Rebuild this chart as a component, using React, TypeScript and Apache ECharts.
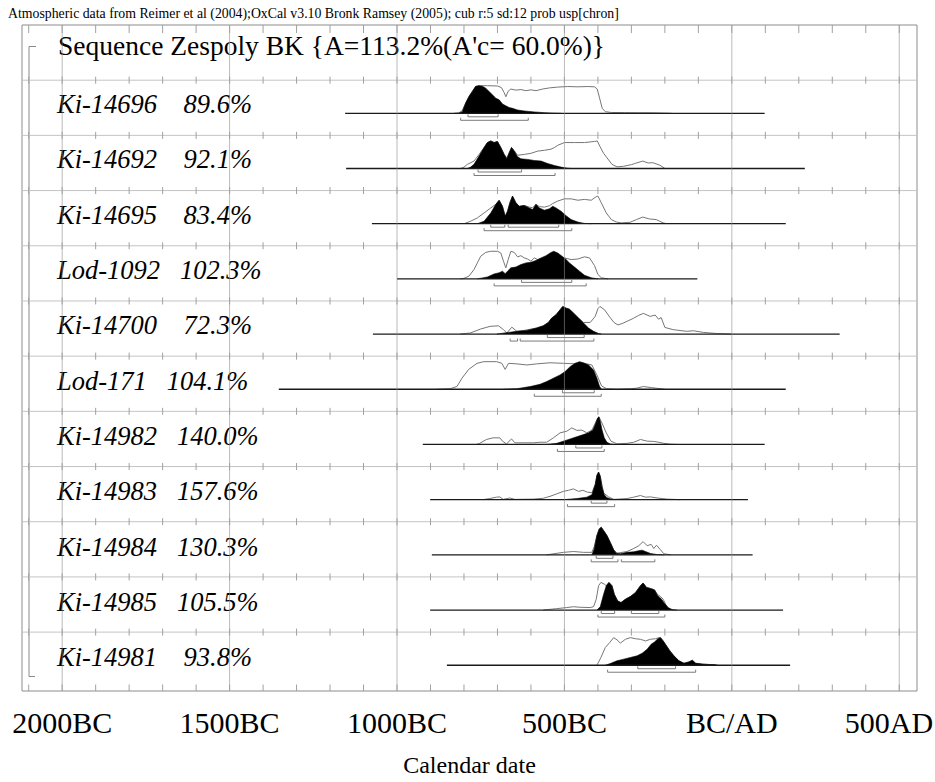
import React, { useEffect, useRef } from 'react';
import * as echarts from 'echarts';

// ---------------- data ----------------
const headerText =
  'Atmospheric data from Reimer et al (2004);OxCal v3.10 Bronk Ramsey (2005); cub r:5 sd:12 prob usp[chron]';
const sequenceTitle = "Sequence Zespoly BK {A=113.2%(A'c= 60.0%)}";
const sampleNames = ['Ki-14696', 'Ki-14692', 'Ki-14695', 'Lod-1092', 'Ki-14700', 'Lod-171', 'Ki-14982', 'Ki-14983', 'Ki-14984', 'Ki-14985', 'Ki-14981'];
const agreementIndex = ['89.6', '92.1', '83.4', '102.3', '72.3', '104.1', '140.0', '157.6', '130.3', '105.5', '93.8'];
const calendarTickYears = [-2000, -1500, -1000, -500, 0, 500];
const calendarTickLabels = ['2000BC', '1500BC', '1000BC', '500BC', 'BC/AD', '500AD'];
const axisTitle = 'Calendar date';

// extent of each distribution's base line [from, to] (calendar years, BC negative)
const rowSpans = [
  [-1155, 98], [-1152, 218], [-1075, 161], [-1000, -103], [-1072, 322], [-1353, 161],
  [-923, 98], [-901, 48], [-896, 62], [-901, 153], [-851, 174],
];

// highest posterior density ranges: [row, level (1 = 68.2%, 2 = 95.4%), from, to]
const hpdRanges = [
  [0, 1, -788, -698], [0, 2, -810, -608],
  [1, 1, -758, -628], [1, 2, -770, -528],
  [2, 1, -720, -678], [2, 1, -668, -517], [2, 2, -740, -478],
  [3, 1, -628, -478], [3, 2, -710, -435],
  [4, 1, -551, -441], [4, 2, -662, -640], [4, 2, -632, -412],
  [5, 1, -506, -411], [5, 2, -590, -390],
  [6, 1, -466, -388], [6, 2, -521, -381],
  [7, 1, -420, -373], [7, 2, -491, -350],
  [8, 1, -405, -355], [8, 2, -420, -340], [8, 2, -330, -230],
  [9, 1, -390, -350], [9, 1, -300, -218], [9, 2, -400, -200],
  [10, 1, -281, -168], [10, 2, -371, -108],
];

// posterior (black) and unmodelled likelihood (outline) densities: [year, % of max]
const postKi14696 = [[-815,0],[-805,6],[-795,37],[-785,61],[-775,79],[-765,98],[-755,100],[-745,98],[-735,91],[-725,79],[-715,67],[-705,55],[-695,49],[-685,34],[-675,27],[-665,21],[-655,18],[-640,12],[-620,8.5],[-590,5],[-560,2.4],[-530,0.6],[-510,0]];
const likeKi14696 = [[-830,0],[-815,2],[-805,10],[-795,37],[-785,61],[-775,80],[-765,97],[-755,100],[-730,100],[-700,99],[-688,93],[-680,75],[-675,60],[-668,80],[-660,88],[-645,84],[-630,86],[-615,82],[-600,85],[-585,82],[-565,88],[-545,92],[-520,95],[-490,97],[-460,96],[-430,97],[-410,96],[-402,88],[-395,55],[-387,18],[-378,6],[-360,3],[-320,2.5],[-280,2],[-240,2],[-210,1],[-180,0]];

const postKi14692 = [[-790,0],[-780,5],[-770,15],[-755,45],[-740,76],[-730,94],[-720,100],[-710,94],[-700,98],[-690,76],[-680,51],[-672,35],[-665,57],[-658,76],[-650,63],[-640,43],[-630,35],[-610,33],[-590,29],[-570,27],[-550,18],[-530,11],[-510,5],[-490,1],[-480,0]];
const likeKi14692 = [[-810,0],[-800,5],[-790,15],[-770,27],[-755,51],[-740,76],[-730,94],[-720,100],[-710,94],[-700,98],[-690,76],[-680,51],[-672,38],[-665,57],[-658,76],[-650,65],[-640,48],[-620,51],[-600,55],[-580,63],[-560,66],[-540,70],[-530,76],[-520,84],[-500,94],[-470,94],[-440,94],[-410,98],[-402,100],[-394,80],[-383,55],[-373,39],[-358,15],[-343,6],[-323,8],[-300,14],[-290,18],[-266,27],[-250,20],[-236,21],[-215,12],[-200,0]];

const postKi14695 = [[-760,0],[-740,9],[-720,39],[-705,70],[-695,85],[-685,63],[-677,27],[-670,45],[-662,79],[-655,100],[-645,76],[-635,63],[-620,66],[-605,57],[-595,51],[-585,70],[-575,57],[-560,49],[-545,54],[-535,63],[-525,57],[-510,45],[-495,29],[-480,15],[-460,6],[-440,1],[-420,0]];
const likeKi14695 = [[-800,0],[-780,9],[-760,21],[-740,39],[-720,57],[-705,70],[-695,85],[-685,63],[-677,27],[-670,45],[-662,79],[-655,100],[-645,76],[-635,63],[-620,66],[-605,60],[-595,58],[-585,70],[-575,62],[-560,60],[-545,65],[-535,73],[-520,82],[-500,90],[-480,90],[-460,85],[-440,88],[-420,85],[-405,98],[-400,100],[-390,76],[-375,39],[-360,15],[-345,6],[-330,3],[-304,5],[-285,15],[-266,24],[-246,17],[-226,15],[-205,3],[-195,0]];

const postLod1092 = [[-760,0],[-730,7],[-710,18],[-695,22],[-685,28],[-677,19],[-670,28],[-660,40],[-645,43],[-630,52],[-615,58],[-600,60],[-585,67],[-570,76],[-555,84],[-540,96],[-532,100],[-520,94],[-505,80],[-495,70],[-485,58],[-470,43],[-455,28],[-440,13],[-420,4],[-400,0]];
const likeLod1092 = [[-810,0],[-800,2],[-785,10],[-770,34],[-760,58],[-750,82],[-735,96],[-720,100],[-700,100],[-690,94],[-682,64],[-675,40],[-668,70],[-660,100],[-650,96],[-640,80],[-630,84],[-620,76],[-610,72],[-600,64],[-590,76],[-580,70],[-570,72],[-550,72],[-530,74],[-500,76],[-480,70],[-460,72],[-440,80],[-425,76],[-410,48],[-400,16],[-390,4],[-370,0]];

const postKi14700 = [[-702,0],[-667,6],[-642,10],[-612,13],[-583,22],[-563,30],[-548,42],[-538,58],[-525,70],[-513,88],[-505,100],[-495,94],[-485,90],[-473,76],[-458,58],[-443,40],[-428,22],[-413,10],[-398,2],[-389,0]];
const likeKi14700 = [[-811,0],[-781,4],[-751,18],[-722,28],[-697,30],[-682,16],[-672,4],[-657,25],[-642,10],[-622,13],[-600,18],[-583,22],[-563,30],[-548,42],[-538,58],[-525,70],[-513,88],[-505,100],[-495,94],[-485,90],[-473,76],[-458,58],[-443,42],[-423,42],[-408,64],[-400,92],[-394,100],[-380,88],[-365,62],[-352,42],[-340,33],[-324,40],[-310,48],[-294,57],[-278,68],[-264,75],[-244,64],[-229,69],[-219,54],[-211,60],[-200,24],[-175,16],[-135,10],[-115,12],[-85,6],[-45,2],[0,0]];

const postLod171 = [[-682,0],[-642,2],[-602,10],[-573,18],[-553,28],[-533,40],[-513,52],[-498,64],[-483,82],[-468,94],[-455,100],[-443,96],[-428,88],[-413,70],[-403,40],[-395,10],[-389,0]];
const likeLod171 = [[-881,0],[-841,2],[-821,10],[-806,40],[-786,72],[-761,94],[-741,100],[-702,100],[-687,94],[-677,72],[-667,94],[-642,92],[-612,88],[-583,92],[-543,96],[-503,94],[-463,92],[-433,92],[-418,88],[-403,52],[-389,12],[-374,2],[-344,0],[-300,2],[-284,4],[-264,10],[-240,6],[-200,0]];

const postKi14982 = [[-553,0],[-523,4],[-503,12],[-483,20],[-463,28],[-443,36],[-428,42],[-415,52],[-408,72],[-401,96],[-397,100],[-393,84],[-388,54],[-381,24],[-373,8],[-363,2],[-353,0]];
const likeKi14982 = [[-763,0],[-753,4],[-733,18],[-713,24],[-693,24],[-685,12],[-673,2],[-658,20],[-648,6],[-623,6],[-593,6],[-573,8],[-553,8],[-533,24],[-513,42],[-493,48],[-478,60],[-463,51],[-448,52],[-433,42],[-418,52],[-405,84],[-397,100],[-388,78],[-375,42],[-361,12],[-343,2],[-313,4],[-293,8],[-273,18],[-253,12],[-233,11],[-218,8],[-203,4],[-183,1],[-163,0]];

const postKi14983 = [[-503,0],[-463,4],[-433,9],[-418,18],[-408,55],[-403,88],[-398,100],[-393,85],[-388,46],[-381,18],[-373,7],[-361,2],[-348,0]];
const likeKi14983 = [[-743,0],[-723,4],[-703,9],[-693,10],[-683,1],[-663,6],[-648,1],[-593,2],[-563,5],[-543,12],[-523,21],[-503,30],[-488,34],[-473,39],[-458,30],[-445,34],[-431,27],[-418,25],[-408,55],[-403,88],[-398,100],[-393,85],[-383,24],[-368,10],[-353,1],[-313,4],[-293,9],[-273,15],[-258,9],[-243,10],[-223,6],[-193,2],[-153,0]];

const postKi14984 = [[-418,0],[-411,21],[-403,70],[-396,94],[-390,100],[-383,88],[-373,70],[-363,45],[-353,18],[-345,6],[-333,4],[-313,9],[-293,11],[-278,15],[-268,17],[-258,12],[-243,5],[-223,1],[-203,0]];
const likeKi14984 = [[-553,0],[-503,9],[-473,12],[-443,9],[-418,9],[-411,30],[-403,70],[-396,94],[-390,100],[-383,88],[-373,70],[-363,45],[-353,18],[-343,6],[-313,12],[-293,23],[-278,33],[-265,48],[-253,33],[-241,38],[-233,23],[-225,35],[-213,18],[-203,4],[-183,0]];

const postKi14985 = [[-403,0],[-393,12],[-383,57],[-375,88],[-367,100],[-358,88],[-351,57],[-341,33],[-331,27],[-318,39],[-303,49],[-288,63],[-273,88],[-265,98],[-255,82],[-243,78],[-231,73],[-221,51],[-211,41],[-203,27],[-191,9],[-178,1],[-163,0]];
const likeKi14985 = [[-563,0],[-523,5],[-493,9],[-473,12],[-453,10],[-423,9],[-413,12],[-405,39],[-398,88],[-391,100],[-381,94],[-375,88],[-367,100],[-358,88],[-351,57],[-341,33],[-331,27],[-318,39],[-303,49],[-288,63],[-273,88],[-265,98],[-255,82],[-243,78],[-231,73],[-221,55],[-213,49],[-205,39],[-198,21],[-188,5],[-173,0]];

const postKi14981 = [[-378,0],[-363,6],[-343,16],[-323,22],[-303,28],[-283,34],[-268,43],[-253,58],[-241,76],[-231,84],[-221,96],[-213,100],[-205,88],[-195,70],[-185,52],[-173,34],[-158,16],[-143,7],[-128,12],[-118,18],[-108,7],[-88,4],[-73,3],[-53,2],[-43,0]];
const likeKi14981 = [[-403,0],[-391,28],[-378,64],[-365,82],[-353,100],[-343,92],[-333,80],[-318,94],[-303,100],[-288,96],[-273,94],[-258,88],[-243,94],[-228,96],[-218,100],[-213,100],[-205,88],[-195,70],[-185,52],[-173,34],[-158,16],[-143,7],[-128,12],[-118,18],[-108,7],[-88,4],[-73,3],[-53,2],[-43,0]];

const posteriors = [postKi14696, postKi14692, postKi14695, postLod1092, postKi14700, postLod171, postKi14982, postKi14983, postKi14984, postKi14985, postKi14981];
const likelihoods = [likeKi14696, likeKi14692, likeKi14695, likeLod1092, likeKi14700, likeLod171, likeKi14982, likeKi14983, likeKi14984, likeKi14985, likeKi14981];

// ---------------- layout / style ----------------
const W = 935;
const H = 782;
const X_MIN = -2120;
const X_MAX = 553;
const Y_MIN = -0.067;
const Y_MAX = 12;
const GRID = { left: 22, top: 25, width: 895, height: 667.5 };
const ROW_PX = GRID.height / (Y_MAX - Y_MIN);
const BASE_OFF = 0.6;
const PEAK = 0.5;
const SERIF = 'Liberation Serif';
const baseOf = (i: number) => 11 - i - BASE_OFF;

export default function App() {
  const ref = useRef<HTMLDivElement>(null);

  useEffect(() => {
    if (!ref.current) return;
    const chart = echarts.init(ref.current, undefined, { renderer: 'svg' });

    const series: any[] = [];

    // grid decorations: major vertical lines, row lines, 100-year ticks
    const gridItems: number[][] = [];
    calendarTickYears.forEach((y) => gridItems.push([0, y, 0]));
    for (let b = 1; b <= 11; b++) gridItems.push([1, b, 0]);
    const minorYears: number[] = [];
    for (let y = -2100; y <= 500; y += 100) minorYears.push(y);
    const tickRows = [Y_MAX, ...Array.from({ length: 11 }, (_, k) => 11 - k), Y_MIN];
    tickRows.forEach((b) => minorYears.forEach((y) => gridItems.push([2, y, b])));

    series.push({
      type: 'custom',
      name: 'grid',
      silent: true,
      z: 6,
      clip: false,
      dimensions: ['kind', 'a', 'b'],
      encode: { x: 1, y: 2 },
      data: gridItems,
      renderItem: (params: any, api: any) => {
        const kind = api.value(0);
        const a = api.value(1);
        const b = api.value(2);
        const cs = params.coordSys;
        if (kind === 0) {
          const p = api.coord([a, Y_MAX]);
          return {
            type: 'line',
            shape: { x1: p[0], y1: cs.y, x2: p[0], y2: cs.y + cs.height },
            style: { stroke: 'rgba(140,140,140,0.6)', lineWidth: 1 },
          };
        }
        if (kind === 1) {
          const p = api.coord([X_MIN, a]);
          return {
            type: 'line',
            shape: { x1: cs.x, y1: p[1], x2: cs.x + cs.width, y2: p[1] },
            style: { stroke: '#c4c4c4', lineWidth: 1 },
          };
        }
        const p = api.coord([a, b]);
        let y1 = p[1] - 3.5;
        let y2 = p[1] + 3.5;
        if (b === Y_MAX) { y1 = p[1]; y2 = p[1] + 8; }
        if (b === Y_MIN) { y1 = p[1] - 6.5; y2 = p[1]; }
        return {
          type: 'line',
          shape: { x1: p[0], y1, x2: p[0], y2 },
          style: { stroke: '#a0a0a0', lineWidth: 1 },
        };
      },
    });

    // calendar tick labels placed through the x scale
    series.push({
      type: 'custom',
      name: 'calendar labels',
      silent: true,
      z: 7,
      clip: false,
      dimensions: ['year', 'idx'],
      encode: { x: 0, y: 1 },
      data: calendarTickYears.map((y, k) => [y, k]),
      renderItem: (_params: any, api: any) => {
        const k = api.value(1);
        const p = api.coord([api.value(0), Y_MIN]);
        return {
          type: 'text',
          x: Math.min(p[0], W - 46),
          y: p[1] + 31,
          style: {
            text: calendarTickLabels[k],
            fill: '#000',
            font: '30px "Liberation Serif"',
            align: 'center',
            verticalAlign: 'middle',
          },
        };
      },
    });

    sampleNames.forEach((name, i) => {
      const base = baseOf(i);
      series.push({
        type: 'line',
        name: name + ' likelihood',
        data: likelihoods[i].map(([x, v]) => [x, base + (v / 100) * PEAK]),
        symbol: 'none',
        silent: true,
        lineStyle: { color: '#767676', width: 1 },
        z: 2,
      });
      series.push({
        type: 'line',
        name: name + ' posterior',
        data: posteriors[i].map(([x, v]) => [x, base + (v / 100) * PEAK]),
        symbol: 'none',
        silent: true,
        lineStyle: { color: '#000', width: 0.6 },
        areaStyle: { color: '#000', opacity: 1, origin: base },
        z: 3,
      });
      series.push({
        type: 'line',
        name: name + ' span',
        data: rowSpans[i].map((x) => [x, base]),
        symbol: 'none',
        silent: true,
        lineStyle: { color: '#1a1a1a', width: 1.3 },
        z: 4,
      });
    });

    series.push({
      type: 'custom',
      name: 'ranges',
      silent: true,
      z: 5,
      clip: false,
      dimensions: ['row', 'level', 'from', 'to'],
      encode: { x: 2, y: 0 },
      data: hpdRanges,
      renderItem: (_params: any, api: any) => {
        const row = api.value(0);
        const level = api.value(1);
        const base = baseOf(row);
        const p1 = api.coord([api.value(2), base]);
        const p2 = api.coord([api.value(3), base]);
        const y = p1[1] + (level === 1 ? 3.5 : 7);
        return {
          type: 'polyline',
          shape: { points: [[p1[0], y - 2.5], [p1[0], y], [p2[0], y], [p2[0], y - 2.5]] },
          style: { stroke: '#7a7a7a', fill: null, lineWidth: 1 },
        };
      },
    });

    const graphics: any[] = [
      {
        type: 'text',
        x: 8,
        y: 13,
        silent: true,
        style: {
          text: headerText,
          fill: '#000',
          font: '13.8px "Liberation Serif"',
          align: 'left',
          verticalAlign: 'middle',
        },
      },
      {
        type: 'text',
        x: 58,
        y: 45,
        silent: true,
        style: {
          text: sequenceTitle,
          fill: '#000',
          font: '27.5px "Liberation Serif"',
          align: 'left',
          verticalAlign: 'middle',
        },
      },
      {
        type: 'polyline',
        silent: true,
        shape: { points: [[36, 46.5], [29, 46.5], [29, 676.5], [35, 676.5]] },
        style: { stroke: '#8a8a8a', fill: null, lineWidth: 1 },
      },
    ];
    const NB = '\u00a0';
    sampleNames.forEach((name, i) => {
      const pct = agreementIndex[i];
      const gap = NB.repeat(parseFloat(pct) < 100 ? 4 : 3);
      const yPx = GRID.top + (1 + i + BASE_OFF) * ROW_PX - 9.5;
      graphics.push({
        type: 'text',
        x: 57,
        y: yPx,
        silent: true,
        style: {
          text: name + gap + pct + '%',
          fill: '#000',
          font: 'italic 26.5px "Liberation Serif"',
          align: 'left',
          verticalAlign: 'middle',
        },
      });
    });

    chart.setOption({
      animation: false,
      backgroundColor: '#fff',
      grid: {
        left: GRID.left,
        top: GRID.top,
        width: GRID.width,
        height: GRID.height,
        show: true,
        borderColor: '#8c8c8c',
        borderWidth: 1,
        backgroundColor: 'transparent',
      },
      xAxis: {
        type: 'value',
        min: X_MIN,
        max: X_MAX,
        axisLine: { show: false },
        axisTick: { show: false },
        splitLine: { show: false },
        axisLabel: { show: false },
        name: axisTitle,
        nameLocation: 'middle',
        nameGap: 62,
        nameTextStyle: { color: '#000', fontFamily: SERIF, fontSize: 24 },
      },
      yAxis: {
        type: 'value',
        min: Y_MIN,
        max: Y_MAX,
        show: false,
      },
      series,
      graphic: graphics,
    });

    return () => chart.dispose();
  }, []);

  return (
    <div
      ref={ref}
      style={{ position: 'fixed', left: 0, top: 0, width: W, height: H, background: '#fff' }}
    />
  );
}
